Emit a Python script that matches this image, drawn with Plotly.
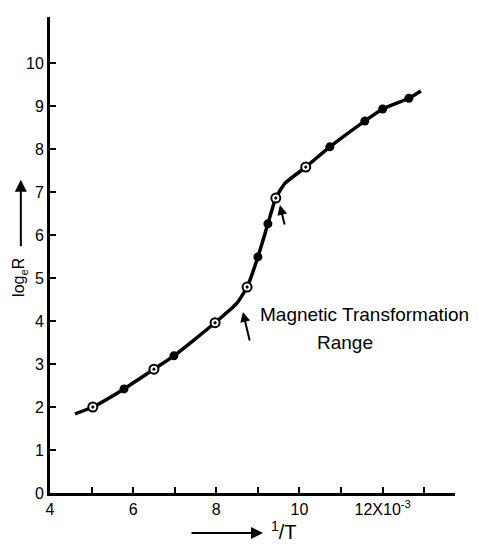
import plotly.graph_objects as go

# curve traced through the drawing
curve_x = [4.6, 5.03, 5.78, 6.5, 6.98, 7.97, 8.5, 8.74, 9.0, 9.24, 9.43, 9.65, 10.15, 10.73, 11.57, 12.0, 12.63, 12.92]
curve_y = [1.84, 2.0, 2.42, 2.88, 3.19, 3.96, 4.42, 4.79, 5.49, 6.26, 6.86, 7.2, 7.58, 8.05, 8.65, 8.93, 9.18, 9.35]

# open (circle-with-dot) points
open_x = [5.03, 6.5, 7.97, 8.74, 9.43, 10.15]
open_y = [2.0, 2.88, 3.96, 4.79, 6.86, 7.58]

# filled points
filled_x = [5.78, 6.98, 9.0, 9.24, 10.73, 11.57, 12.0, 12.63]
filled_y = [2.42, 3.19, 5.49, 6.26, 8.05, 8.65, 8.93, 9.18]

x_tick_vals = [4, 5, 6, 7, 8, 9, 10, 11, 12, 13]
x_tick_text = ["4", "", "6", "", "8", "", "10", "", "12X10<sup>-3</sup>", ""]
y_tick_vals = [0, 1, 2, 3, 4, 5, 6, 7, 8, 9, 10]
y_tick_text = ["0", "1", "2", "3", "4", "5", "6", "7", "8", "9", "10"]

FONT = "Liberation Sans"

fig = go.Figure()
fig.add_trace(go.Scatter(x=curve_x, y=curve_y, mode="lines",
                         line=dict(color="black", width=3.5, shape="spline", smoothing=0.5),
                         hoverinfo="skip", showlegend=False))
fig.add_trace(go.Scatter(x=filled_x, y=filled_y, mode="markers",
                         marker=dict(symbol="circle", size=9, color="black"),
                         showlegend=False))
fig.add_trace(go.Scatter(x=open_x, y=open_y, mode="markers",
                         marker=dict(symbol="circle-dot", size=9, color="white",
                                     line=dict(color="black", width=2)),
                         showlegend=False))

ann = []
# kink arrows
ann.append(dict(x=8.64, y=4.21, ax=8.81, ay=3.51, xref="x", yref="y", axref="x", ayref="y",
                showarrow=True, arrowhead=2, arrowsize=1, arrowwidth=2, arrowcolor="black", text=""))
ann.append(dict(x=9.53, y=6.70, ax=9.65, ay=6.21, xref="x", yref="y", axref="x", ayref="y",
                showarrow=True, arrowhead=2, arrowsize=1, arrowwidth=2, arrowcolor="black", text=""))
ann.append(dict(x=9.0, y=4.14, xref="x", yref="y", text="Magnetic Transformation",
                showarrow=False, xanchor="left", yanchor="middle",
                font=dict(family=FONT, size=19, color="black")))
ann.append(dict(x=11.09, y=3.51, xref="x", yref="y", text="Range",
                showarrow=False, xanchor="center", yanchor="middle",
                font=dict(family=FONT, size=19, color="black")))
# x-axis label with arrow (paper coordinates, outside plot area)
ann.append(dict(x=0.526, y=-0.084, ax=-73, ay=0, xref="paper", yref="paper",
                showarrow=True, arrowhead=2, arrowsize=1.2, arrowwidth=2, arrowcolor="black", text=""))
ann.append(dict(x=0.578, y=-0.078, xref="paper", yref="paper", text="<sup>1</sup>/T",
                showarrow=False, xanchor="center", yanchor="middle",
                font=dict(family=FONT, size=20, color="black")))
# y-axis label with arrow
ann.append(dict(x=-0.072, y=0.658, ax=0, ay=68, xref="paper", yref="paper",
                showarrow=True, arrowhead=2, arrowsize=1.2, arrowwidth=2, arrowcolor="black", text=""))
ann.append(dict(x=-0.074, y=0.452, xref="paper", yref="paper", text="log<sub>e</sub>R", textangle=-90,
                showarrow=False, xanchor="center", yanchor="middle",
                font=dict(family=FONT, size=16, color="black")))

fig.update_layout(
    width=470, height=537,
    margin=dict(l=42, r=23, t=9, b=52),
    paper_bgcolor="white", plot_bgcolor="white",
    annotations=ann,
    xaxis=dict(range=[4, 13.74], tickvals=x_tick_vals, ticktext=x_tick_text,
               showgrid=False, zeroline=False, showline=True, linecolor="black", linewidth=3,
               ticks="inside", ticklen=6, tickwidth=2, tickcolor="black",
               tickfont=dict(family=FONT, size=16, color="black")),
    yaxis=dict(range=[0, 11.07], tickvals=y_tick_vals, ticktext=y_tick_text,
               showgrid=False, zeroline=False, showline=True, linecolor="black", linewidth=3,
               ticks="inside", ticklen=6, tickwidth=2, tickcolor="black",
               tickfont=dict(family=FONT, size=16, color="black")),
)

fig.write_html("out.html")
